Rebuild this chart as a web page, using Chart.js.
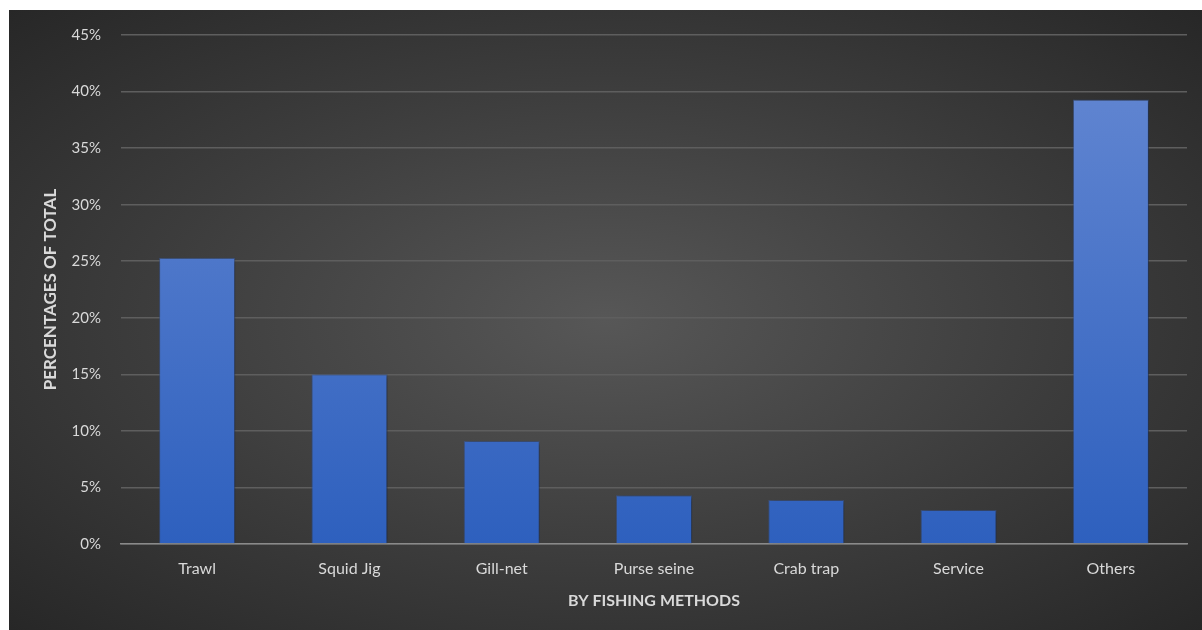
<!DOCTYPE html>
<html>
<head>
<meta charset="utf-8">
<script src="https://cdn.jsdelivr.net/npm/chart.js@4"></script>
<style>
  html, body { margin: 0; padding: 0; background: #fff; }
  #box {
    position: absolute; left: 9px; top: 10px; width: 1193px; height: 620px;
    background: radial-gradient(ellipse farthest-corner at 50% 50%, #575757 0%, #3c3c3c 55%, #272727 100%);
  }
  canvas { display: block; position: absolute; left: 0; top: -4px; }
</style>
</head>
<body>
<div id="box"><canvas id="chart" width="1193" height="624"></canvas></div>
<script>
// valores (% do total)
const metodos = ['Trawl', 'Squid Jig', 'Gill-net', 'Purse seine', 'Crab trap', 'Service', 'Others'];
const percentuais = [25.3, 15.0, 9.1, 4.3, 3.9, 3.0, 39.3];
const tickMax = 45;
const tickPasso = 5;

const corTexto = '#d9d9d9';
const fonte = 'Lato, "Open Sans", sans-serif';

const sombraPlugin = {
  id: 'sombra',
  beforeDatasetsDraw(chart) {
    const c = chart.ctx;
    c.save();
    c.shadowColor = 'rgba(0,0,0,0.45)';
    c.shadowBlur = 5;
    c.shadowOffsetX = 2;
    c.shadowOffsetY = 1;
  },
  afterDatasetsDraw(chart) { chart.ctx.restore(); }
};

function gradienteBarra(context) {
  const chart = context.chart;
  const area = chart.chartArea;
  if (!area) return '#4472c4';
  const g = chart.ctx.createLinearGradient(0, area.top, 0, area.bottom);
  g.addColorStop(0, '#6689d3');
  g.addColorStop(1, '#2e60be');
  return g;
}

new Chart(document.getElementById('chart').getContext('2d'), {
  type: 'bar',
  data: {
    labels: metodos,
    datasets: [{
      data: percentuais,
      backgroundColor: gradienteBarra,
      borderColor: 'rgba(60,95,170,0.5)',
      borderWidth: 1,
      categoryPercentage: 1,
      barPercentage: 0.5
    }]
  },
  plugins: [sombraPlugin],
  options: {
    responsive: false,
    animation: false,
    layout: { padding: { left: 0, right: 15, top: 20, bottom: 0 } },
    plugins: { legend: { display: false }, tooltip: { enabled: false } },
    scales: {
      x: {
        grid: { display: false, drawTicks: false },
        border: { color: '#8a8a8a', width: 1.5 },
        ticks: { color: corTexto, font: { family: fonte, size: 16 }, padding: 15 },
        title: { display: true, text: 'BY FISHING METHODS', color: corTexto, font: { family: fonte, size: 16, weight: 'bold' }, padding: { top: 0, bottom: 20 } },
        afterFit(scale) { scale.height = 86; }
      },
      y: {
        min: 0,
        max: tickMax,
        grid: { color: '#5e5e5e', lineWidth: 1.5, drawTicks: false },
        border: { display: false },
        ticks: { stepSize: tickPasso, color: corTexto, font: { family: fonte, size: 15 }, padding: 20, callback: v => v + '%' },
        title: { display: true, text: 'PERCENTAGES OF TOTAL', color: corTexto, font: { family: fonte, size: 17, weight: 'bold' }, padding: { top: 31, bottom: 0 } },
        afterFit(scale) { scale.width = 112; }
      }
    }
  }
});
</script>
</body>
</html>
